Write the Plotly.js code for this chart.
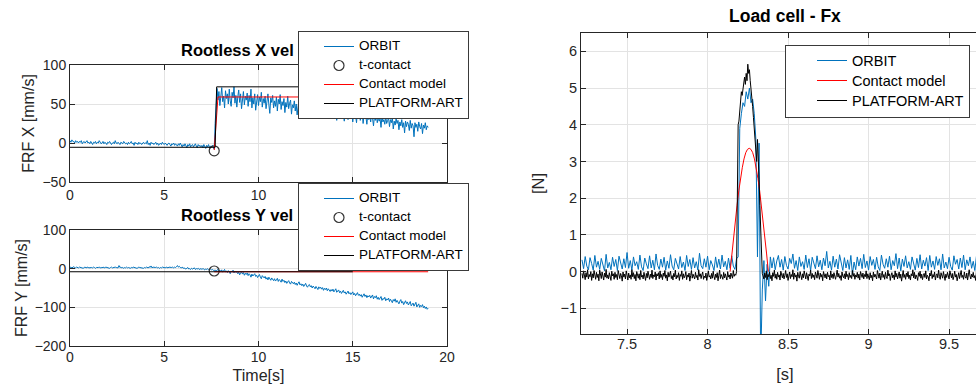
<!DOCTYPE html>
<html>
<head>
<meta charset="utf-8">
<script src="https://cdn.plot.ly/plotly-3.0.1.min.js"></script>
<style>
  html, body { margin: 0; padding: 0; overflow: hidden; background: #fff; }
  #chart { width: 1010px; height: 385px; }
</style>
</head>
<body>
<div id="chart"></div>
<script>
// ---------------- DATA ----------------
// Left panels: sampled velocity, uniform sampling (start / step)
const velT0 = 0;
const velDt = 0.05;

// ORBIT X velocity [mm/s], t = 0 .. 19 s
const orbitX = [
  3, 1, 4, 2, 2, 0, 3, 1, 2, 0,
  2, 1, 3, -1, 1, 2, 0, 1, 3, 0,
  1, -1, 2, 0, -2, 1, 0, 2, -1, 1,
  0, 3, 1, -1, 0, 2, -1, 1, 0, -2,
  1, 0, 2, -1, -2, 0, 1, -1, 3, 0,
  -1, 1, 0, -2, 1, 0, -1, 2, 0, -1,
  0, -2, 1, -1, 0, 2, -1, 0, -3, 1,
  -1, 0, -2, 1, -1, 0, -2, 0, 1, -1,
  0, -1, 3, -2, 0, -3, 1, -1, 0, -2,
  -1, 1, -2, 0, -3, -1, 0, -2, 1, -1,
  -2, 0, -1, -3, -1, 0, -2, -4, -1, -2,
  0, -3, -1, -2, -4, -1, -3, 0, -2, -5,
  -2, -4, -1, -3, -6, -2, -4, -1, -5, -3,
  -2, -5, -3, -1, -4, -6, -2, -4, -3, -5,
  -3, -6, -2, -4, -7, -3, -5, -2, -6, -4,
  -5, -3, -7,
  -8, 25, 62, 70,
  55, 66, 48, 62, 71, 53, 60, 45, 67, 57,
  63, 50, 69, 54, 47, 65, 58, 72, 51, 61,
  46, 59, 68, 52, 63, 44, 57, 66, 49, 60,
  55, 64, 47, 61, 53, 69, 45, 58, 50, 63,
  42, 56, 62, 48, 59, 53, 65, 46, 57, 51,
  60, 44, 55, 63, 49, 38, 58, 52, 61, 45,
  54, 47, 59, 41, 56, 50, 62, 43, 53, 48,
  57, 39, 52, 46, 60, 44, 51, 55, 37, 49,
  45, 54, 41, 50, 36, 48, 56, 43, 47, 39,
  52, 44, 38, 50, 42, 55, 40, 46, 34, 49,
  43, 37, 51, 41, 46, 35, 48, 40, 44, 32,
  47, 39, 43, 36, 50, 34, 41, 45, 31, 42,
  38, 44, 33, 46, 37, 41, 29, 43, 36, 40,
  32, 45, 35, 39, 28, 42, 34, 37, 30, 44,
  36, 31, 40, 27, 38, 33, 35, 26, 41, 32,
  37, 29, 34, 39, 25, 36, 31, 33, 24, 38,
  30, 35, 27, 37, 32, 22, 34, 29, 36, 26,
  33, 28, 31, 20, 35, 27, 30, 24, 34, 25,
  29, 32, 21, 30, 26, 33, 18, 28, 23, 31,
  25, 29, 17, 27, 22, 30, 20, 26, 13, 28,
  21, 27, 24, 16, 29, 19, 25, 22, 8, 26,
  20, 24, 15, 27, 21, 18, 25, 12, 23, 19,
  26, 17, 22, 20
];

// ORBIT Y velocity [mm/s], t = 0 .. 19 s
const orbitY = [
  3, 4, 2, 3, 5, 3, 2, 4, 3, 2,
  4, 3, 2, 3, 1, 3, 4, 2, 3, 4,
  2, 3, 4, 3, 2, 4, 3, 1, 3, 2,
  3, 4, 2, 3, 2, 4, 3, 2, 4, 3,
  2, 3, 1, 3, 4, 2, 3, 2, 4, 3,
  3, 2, 8, 3, 4, 2, 3, 1, 3, 2,
  4, 2, 3, 2, 1, 3, 2, 4, 3, 2,
  3, 1, 2, 4, 3, 2, 3, 2, 1, 3,
  2, 4, 3, 2, 5, 3, 7, 2, 4, 3,
  2, 3, 4, 2, 3, 1, 3, 2, 4, 3,
  3, 2, 4, 3, 2, 4, 3, 2, 3, 4,
  2, 4, 3, 5, 8, 4, 6, 3, 2, 4,
  1, 2, 0, -1, 1, 3, -1, 0, -2, 1,
  -1, 0, 2, -2, 0, -1, 1, -2, -1, 0,
  -2, 0, -1, -3, -1, -2, 0, -3, -2, -1,
  -3, -2, -4,
  -5, -3, -6, -4,
  -2, -8, -4, -7, -3, -9, -5, -2, -8, -6,
  -10, -5, -8, -13, -6, -9, -4, -11, -7, -10,
  -8, -13, -9, -16, -11, -8, -14, -10, -17, -12,
  -15, -11, -18, -13, -16, -22, -14, -19, -16, -13,
  -20, -17, -23, -19, -15, -22, -26, -18, -21, -24,
  -20, -27, -23, -29, -22, -25, -30, -24, -28, -31,
  -26, -32, -29, -25, -33, -28, -31, -35, -27, -33,
  -30, -36, -32, -38, -34, -31, -37, -40, -33, -36,
  -39, -35, -41, -37, -43, -38, -34, -42, -39, -44,
  -40, -46, -42, -38, -45, -48, -43, -41, -47, -44,
  -50, -45, -48, -52, -46, -49, -54, -47, -51, -48,
  -53, -49, -56, -51, -54, -50, -57, -52, -55, -59,
  -54, -58, -53, -60, -56, -52, -61, -57, -55, -62,
  -58, -64, -59, -56, -63, -60, -66, -61, -58, -65,
  -62, -67, -63, -60, -68, -64, -70, -65, -62, -69,
  -66, -71, -67, -74, -69, -65, -72, -68, -75, -70,
  -73, -69, -76, -71, -68, -78, -72, -75, -70, -79,
  -74, -80, -76, -72, -82, -77, -79, -74, -83, -78,
  -81, -76, -85, -79, -83, -88, -80, -84, -78, -87,
  -82, -86, -91, -84, -80, -89, -85, -93, -87, -83,
  -90, -86, -94, -88, -85, -96, -91, -89, -97, -92,
  -87, -99, -94, -91, -100, -95, -98, -93, -101, -97,
  -103, -99, -105, -102
];

// contact instant
const contactT = [7.65];
const contactX = [-10];
const contactY = [-6];

// Contact model (red) and PLATFORM-ART (black), X velocity
const modelXt = [7.65, 7.85, 19];
const modelXv = [-9, 59, 59];
const artXt = [0, 7.7, 7.78, 15];
const artXv = [-5.5, -5.5, 72, 72];

// Contact model (red) and PLATFORM-ART (black), Y velocity
const modelYt = [7.65, 19];
const modelYv = [-8, -8];
const artYt = [0, 15];
const artYv = [-8, -8];

// Tick labels of the time axes (the upper panel's 15 and 20 sit under its legend)
const timeTicks = [0, 5, 10, 15, 20];
const timeTickTextTop = ['0', '5', '10', '', ''];

// Right panel: load cell Fx [N]
const fxOrbitT0 = 7.22;
const fxOrbitDt = 0.01;
const fxOrbit = [
  0.32, 0.08, 0.41, 0.15, 0.05, 0.38, 0.22, 0.04, 0.44, 0.12,
  0.28, 0.06, 0.36, 0.18, 0.02, 0.47, 0.1, 0.25, 0.05, 0.39,
  0.14, 0.33, 0.03, 0.42, 0.2, 0.07, 0.35, 0.11, 0.52, 0.09,
  0.3, 0.04, 0.4, 0.16, 0.27, 0.06, 0.45, 0.13, 0.03, 0.37,
  0.21, 0.08, 0.43, 0.1, 0.31, 0.05, 0.48, 0.17, 0.06, 0.34,
  0.12, 0.39, 0.04, 0.29, 0.09, 0.46, 0.15, 0.05, 0.36, 0.2,
  0.07, 0.41, 0.11, 0.26, 0.03, 0.44, 0.14, 0.33, 0.06, 0.38,
  0.1, 0.27, 0.04, 0.5, 0.16, 0.08, 0.35, 0.12, 0.42, 0.05,
  0.3, 0.18, 0.03, 0.4, 0.11, 0.34, 0.07, 0.45, 0.13, 0.28,
  0.05, 0.37, 0.09, 0.43, 0.15, 0.06,
  0.35, 0.4, 3.9, 4.3, 4.6, 4.5, 4.9, 4.7, 5.0, 4.6, 4.7, 4.3, 3.6, 0.4, 3.5, -2.5, -0.5, 0.3, -0.8, 0.2, -0.4, 0.4,
  0.1, 0.38, 0.05, 0.29, 0.44, 0.12, 0.33, 0.04, 0.41, 0.17,
  0.07, 0.36, 0.22, 0.48, 0.09, 0.3, 0.03, 0.4, 0.14, 0.27,
  0.06, 0.45, 0.11, 0.35, 0.02, 0.39, 0.19, 0.08, 0.43, 0.13,
  0.31, 0.05, 0.37, 0.16, 0.55, 0.1, 0.28, 0.04, 0.42, 0.12,
  0.34, 0.07, 0.46, 0.18, 0.03, 0.38, 0.1, 0.32, 0.06, 0.44,
  -0.08, 0.26, 0.05, 0.4, 0.15, 0.36, 0.08, 0.47, 0.11, 0.29,
  0.04, 0.41, 0.17, 0.33, 0.06, 0.39, 0.13, 0.03, 0.45, 0.2,
  0.09, 0.35, 0.12, 0.42, 0.05, 0.3, 0.16, 0.49, 0.08, 0.37,
  0.02, 0.34, 0.14, 0.43, 0.1, 0.27, 0.06, 0.4, 0.18, 0.04,
  0.36, 0.11, 0.46, 0.07, 0.31, 0.15, 0.38, 0.03, 0.44, 0.12,
  0.29, 0.06, 0.41, 0.17, 0.35, 0.05, 0.48, 0.1, 0.26, 0.08,
  0.39, 0.14, 0.04, 0.43, 0.2, 0.33, 0.07, 0.37, 0.11, 0.45,
  0.05, 0.32, 0.16, 0.4, 0.09, 0.28, 0.03, 0.42, 0.13, 0.36,
  0.06, 0.44, 0.18, 0.3, 0.08, 0.38
];

const fxArtT0 = 7.22;
const fxArtDt = 0.005;
const fxArt = [
  -0.05, -0.18, 0.02, -0.12, -0.22, -0.03, -0.15, 0.05, -0.2, -0.08,
  -0.14, 0.0, -0.24, -0.06, -0.17, 0.03, -0.11, -0.21, -0.02, -0.16,
  -0.07, -0.25, 0.04, -0.13, -0.19, -0.01, -0.1, -0.23, -0.04, -0.15,
  0.06, -0.18, -0.09, -0.2, -0.03, -0.14, -0.24, 0.01, -0.12, -0.06,
  -0.21, -0.02, -0.16, -0.08, -0.22, 0.03, -0.13, -0.19, -0.05, -0.11,
  -0.26, -0.01, -0.15, -0.07, -0.2, 0.02, -0.1, -0.23, -0.04, -0.17,
  -0.09, -0.21, 0.05, -0.14, -0.03, -0.19, -0.08, -0.25, 0.0, -0.12,
  -0.18, -0.06, -0.22, 0.03, -0.15, -0.1, -0.2, -0.02, -0.13, -0.24,
  -0.05, -0.17, 0.01, -0.11, -0.21, -0.07, -0.16, 0.04, -0.19, -0.09,
  -0.14, -0.01, -0.23, -0.06, -0.12, -0.03, -0.2, 0.02, -0.16, -0.08,
  -0.22, -0.04, -0.13, 0.03, -0.18, -0.09, -0.25, -0.02, -0.15, -0.07,
  0.01, -0.19, -0.11, -0.23, -0.05, -0.14, 0.04, -0.2, -0.1, -0.16,
  -0.03, -0.24, -0.08, -0.13, 0.02, -0.21, -0.06, -0.17, -0.12, 0.0,
  -0.22, -0.09, -0.15, -0.04, -0.26, -0.11, 0.03, -0.18, -0.07, -0.14,
  -0.2, -0.02, -0.16, -0.1, -0.23, 0.05, -0.13, -0.06, -0.19, -0.08,
  -0.01, -0.21, -0.12, -0.17, -0.04, -0.24, -0.09, 0.02, -0.15, -0.11,
  -0.2, -0.05, -0.18, 0.01, -0.13, -0.22, -0.07, -0.16, -0.03, -0.25,
  -0.1, 0.04, -0.19, -0.08, -0.14, -0.21, -0.02, -0.17, -0.06, -0.12,
  -0.23, 0.0, -0.15, -0.09, -0.2, -0.04, -0.11, -0.18, 0.03, -0.13,
  -0.07, -0.1,
  0.0, 2.2, 4.0, 4.1, 4.4, 4.6, 4.9, 4.8, 5.0, 5.2, 5.3, 5.1, 5.4, 5.2, 5.65, 5.4, 5.5,
  5.2, 5.0, 4.7, 4.5, 4.2, 3.9, 3.6, 3.2, 3.0, 3.6, 2.7, 2.5, 1.8, 1.1, 0.4, -0.05,
  -0.12, -0.2, -0.04, -0.16, 0.02, -0.22, -0.08, -0.14, -0.01, -0.19,
  -0.1, -0.25, -0.03, -0.13, 0.04, -0.18, -0.07, -0.21, -0.02, -0.15,
  -0.09, -0.23, 0.01, -0.12, -0.17, -0.05, -0.2, -0.1, 0.03, -0.16,
  -0.06, -0.24, -0.11, -0.01, -0.19, -0.08, -0.14, 0.05, -0.21, -0.04,
  -0.15, -0.09, -0.26, -0.02, -0.13, -0.18, 0.0, -0.11, -0.22, -0.06,
  -0.17, 0.02, -0.1, -0.2, -0.03, -0.14, -0.24, -0.07, -0.12, 0.04,
  -0.19, -0.05, -0.16, -0.09, -0.22, -0.01, -0.13, -0.18, 0.03, -0.11,
  -0.21, -0.04, -0.15, -0.08, -0.25, 0.0, -0.12, -0.17, -0.06, -0.2,
  -0.02, -0.14, -0.1, -0.23, 0.02, -0.16, -0.07, -0.19, -0.03, -0.13,
  -0.21, -0.09, 0.04, -0.15, -0.05, -0.18, -0.11, -0.24, -0.01, -0.12,
  -0.17, -0.06, -0.2, 0.01, -0.14, -0.08, -0.22, -0.03, -0.16, -0.1,
  -0.19, 0.03, -0.13, -0.05, -0.21, -0.09, -0.15, -0.02, -0.18, -0.07,
  -0.23, 0.0, -0.11, -0.16, -0.04, -0.2, -0.08, -0.14, 0.02, -0.19,
  -0.06, -0.12, -0.22, -0.03, -0.17, -0.1, -0.25, -0.01, -0.15, -0.07,
  -0.13, -0.2, 0.03, -0.09, -0.18, -0.04, -0.23, -0.11, 0.01, -0.16,
  -0.08, -0.21, -0.02, -0.14, -0.19, 0.04, -0.12, -0.06, -0.24, -0.1,
  -0.03, -0.17, -0.09, -0.22, 0.02, -0.15, -0.05, -0.2, -0.13, -0.01,
  -0.18, -0.07, -0.26, -0.11, 0.03, -0.16, -0.08, -0.21, -0.04, -0.14,
  0.0, -0.19, -0.1, -0.23, -0.06, -0.12, 0.05, -0.17, -0.02, -0.2,
  -0.09, -0.15, -0.24, -0.03, -0.13, 0.01, -0.18, -0.07, -0.22, -0.11,
  -0.05, -0.16, 0.02, -0.2, -0.1, -0.14, -0.25, -0.04, -0.12, 0.03,
  -0.19, -0.08, -0.15, -0.01, -0.23, -0.11, -0.06, -0.17, 0.04, -0.13,
  -0.21, -0.03, -0.1, -0.18, 0.0, -0.14, -0.24, -0.07, -0.16, -0.02,
  -0.12, -0.2, 0.02, -0.09, -0.17, -0.05, -0.22, -0.13, 0.01, -0.15,
  -0.08, -0.25, -0.11, -0.03, -0.19, -0.06, 0.03, -0.16, -0.1, -0.21,
  -0.01, -0.14, -0.18, -0.04, -0.23, -0.09, 0.05, -0.12, -0.2, -0.07,
  -0.15, -0.02, -0.17, -0.11, -0.24, 0.0, -0.13, -0.08, -0.19, -0.05,
  -0.16, 0.02, -0.1, -0.21, -0.03, -0.14, -0.07, -0.22, 0.01, -0.12,
  -0.18, -0.06
];

// Contact model force hump [N]
const fxModelT0 = 8.14;
const fxModelDt = 0.0108;
const fxModel = [0, 0.48, 0.95, 1.39, 1.81, 2.2, 2.54, 2.83, 3.07, 3.24, 3.33, 3.36,
                 3.33, 3.24, 3.07, 2.83, 2.54, 2.2, 1.81, 1.39, 0.95, 0.48, 0];

// Series / title labels
const names = ['ORBIT', 't-contact', 'Contact model', 'PLATFORM-ART'];
const titles = ['Rootless X vel', 'Rootless Y vel', 'Load cell - Fx'];

// ---------------- STYLE ----------------
const BLUE = '#0072BD', RED = '#FF0000', BLACK = '#000000';
const FONT = 'Liberation Sans, Arial, Helvetica, sans-serif';
const AX = '#262626';
const GRID = '#e3e3e3';

function lg(name, px) { return '<span style="font-size:' + px + 'px">' + name + '</span>'; }

const traces = [
  // top-left
  {x0: velT0, dx: velDt, y: orbitX, xaxis: 'x', yaxis: 'y', type: 'scatter', mode: 'lines',
   name: lg(names[0], 13.5), line: {color: BLUE, width: 1}, legend: 'legend'},
  {x: contactT, y: contactX, xaxis: 'x', yaxis: 'y', type: 'scatter', mode: 'markers',
   name: lg(names[1], 13.5), marker: {symbol: 'circle-open', size: 10, color: '#333', line: {width: 1.2}}, legend: 'legend'},
  {x: modelXt, y: modelXv, xaxis: 'x', yaxis: 'y', type: 'scatter', mode: 'lines',
   name: lg(names[2], 13.5), line: {color: RED, width: 1}, legend: 'legend'},
  {x: artXt, y: artXv, xaxis: 'x', yaxis: 'y', type: 'scatter', mode: 'lines',
   name: lg(names[3], 13.5), line: {color: BLACK, width: 1}, legend: 'legend'},
  // bottom-left
  {x0: velT0, dx: velDt, y: orbitY, xaxis: 'x2', yaxis: 'y2', type: 'scatter', mode: 'lines',
   name: lg(names[0], 13.5), line: {color: BLUE, width: 1}, legend: 'legend2'},
  {x: contactT, y: contactY, xaxis: 'x2', yaxis: 'y2', type: 'scatter', mode: 'markers',
   name: lg(names[1], 13.5), marker: {symbol: 'circle-open', size: 10, color: '#333', line: {width: 1.2}}, legend: 'legend2'},
  {x: modelYt, y: modelYv, xaxis: 'x2', yaxis: 'y2', type: 'scatter', mode: 'lines',
   name: lg(names[2], 13.5), line: {color: RED, width: 1}, legend: 'legend2'},
  {x: artYt, y: artYv, xaxis: 'x2', yaxis: 'y2', type: 'scatter', mode: 'lines',
   name: lg(names[3], 13.5), line: {color: BLACK, width: 1}, legend: 'legend2'},
  // right
  {x0: fxOrbitT0, dx: fxOrbitDt, y: fxOrbit, xaxis: 'x3', yaxis: 'y3', type: 'scatter', mode: 'lines',
   name: lg(names[0], 14.5), line: {color: BLUE, width: 1}, legend: 'legend3'},
  {x0: fxModelT0, dx: fxModelDt, y: fxModel, xaxis: 'x3', yaxis: 'y3', type: 'scatter', mode: 'lines',
   name: lg(names[2], 14.5), line: {color: RED, width: 1}, legend: 'legend3'},
  {x0: fxArtT0, dx: fxArtDt, y: fxArt, xaxis: 'x3', yaxis: 'y3', type: 'scatter', mode: 'lines',
   name: lg(names[3], 14.5), line: {color: BLACK, width: 1}, legend: 'legend3'}
];

function axisBase(extra) {
  return Object.assign({
    showline: true, linecolor: AX, linewidth: 1, mirror: 'ticks',
    ticks: 'inside', ticklen: 5, tickcolor: AX, tickwidth: 1,
    showgrid: true, gridcolor: GRID, gridwidth: 1, zeroline: false,
    tickfont: {family: FONT, size: 14, color: AX},
    fixedrange: true
  }, extra);
}

function legendBase(x, y, indent, baseSize) {
  return {
    x: x, y: y, xref: 'paper', yref: 'paper', xanchor: 'left', yanchor: 'top',
    bgcolor: '#ffffff', bordercolor: '#3a3a3a', borderwidth: 1,
    font: {family: FONT, size: baseSize, color: '#000'},
    indentation: indent, traceorder: 'normal'
  };
}

const W = 1010, H = 385;
const layout = {
  width: W, height: H,
  margin: {l: 0, r: 0, t: 0, b: 0},
  paper_bgcolor: '#fff', plot_bgcolor: '#fff',
  showlegend: true,
  font: {family: FONT, color: AX},
  xaxis: axisBase({domain: [70 / W, 447 / W], anchor: 'y', range: [0, 20],
    tickmode: 'array', tickvals: timeTicks, ticktext: timeTickTextTop}),
  yaxis: axisBase({domain: [(H - 182) / H, (H - 65) / H], anchor: 'x', range: [-50, 100], dtick: 50,
    title: {text: 'FRF X [mm/s]', font: {family: FONT, size: 16, color: AX}, standoff: 3}}),
  xaxis2: axisBase({domain: [70 / W, 447 / W], anchor: 'y2', range: [0, 20],
    tickmode: 'array', tickvals: timeTicks,
    ticklabelstandoff: -2,
    title: {text: 'Time[s]', font: {family: FONT, size: 16, color: AX}, standoff: 6}}),
  yaxis2: axisBase({domain: [(H - 346) / H, (H - 230) / H], anchor: 'x2', range: [-200, 100], dtick: 100,
    title: {text: 'FRF Y [mm/s]', font: {family: FONT, size: 16, color: AX}, standoff: 3}}),
  xaxis3: axisBase({domain: [581 / W, 989 / W], anchor: 'y3', range: [7.214, 9.748], dtick: 0.5, tick0: 7.5,
    ticklabelstandoff: -3,
    tickfont: {family: FONT, size: 14.5, color: AX},
    title: {text: '[s]', font: {family: FONT, size: 16.5, color: AX}, standoff: 17}}),
  yaxis3: axisBase({domain: [(H - 334) / H, (H - 33) / H], anchor: 'x3', range: [-1.7, 6.5], dtick: 1,
    tickfont: {family: FONT, size: 14.5, color: AX},
    title: {text: '[N]', font: {family: FONT, size: 16.5, color: AX}, standoff: 11}}),
  annotations: [
    {text: '<b>' + titles[0] + '</b>', xref: 'paper', yref: 'paper', x: 179 / W, y: (H - 50) / H,
     xanchor: 'left', yanchor: 'middle', showarrow: false, font: {family: FONT, size: 16.5, color: '#000'}},
    {text: '<b>' + titles[1] + '</b>', xref: 'paper', yref: 'paper', x: 179 / W, y: (H - 215) / H,
     xanchor: 'left', yanchor: 'middle', showarrow: false, font: {family: FONT, size: 16.5, color: '#000'}},
    {text: '<b>' + titles[2] + '</b>', xref: 'paper', yref: 'paper', x: 785 / W, y: (H - 16) / H,
     xanchor: 'center', yanchor: 'middle', showarrow: false, font: {family: FONT, size: 17.5, color: '#000'}}
  ],
  legend: legendBase(298 / W, (H - 31) / H, 20, 10),
  legend2: legendBase(298 / W, (H - 183) / H, 20, 10),
  legend3: legendBase(785 / W, (H - 44.5) / H, 26, 13.08)
};

Plotly.newPlot('chart', traces, layout, {displayModeBar: false, staticPlot: true});
</script>
</body>
</html>
